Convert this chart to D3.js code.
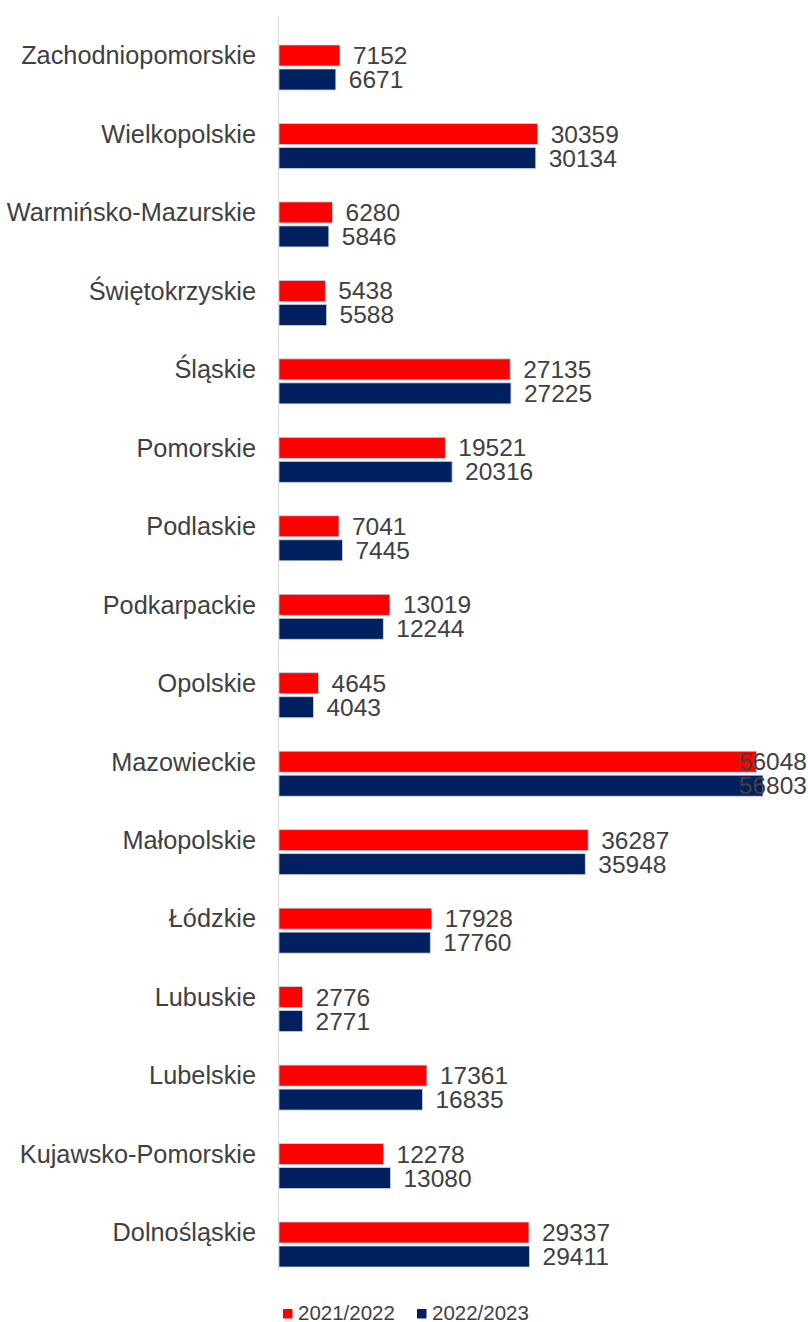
<!DOCTYPE html>
<html>
<head>
<meta charset="utf-8">
<script src="https://d3js.org/d3.v7.min.js"></script>
<style>
  body { margin: 0; background: #fff; }
  text { font-family: "Liberation Sans", Arial, sans-serif; fill: #404040; }
</style>
</head>
<body>
<script>
// Data
const categories = ["Zachodniopomorskie", "Wielkopolskie", "Warmińsko-Mazurskie", "Świętokrzyskie",
    "Śląskie", "Pomorskie", "Podlaskie", "Podkarpackie", "Opolskie", "Mazowieckie", "Małopolskie",
    "Łódzkie", "Lubuskie", "Lubelskie", "Kujawsko-Pomorskie", "Dolnośląskie"];
const series = ["2021/2022", "2022/2023"];
const values2122 = [7152, 30359, 6280, 5438, 27135, 19521, 7041, 13019, 4645, 56048, 36287, 17928, 2776, 17361, 12278, 29337];
const values2223 = [6671, 30134, 5846, 5588, 27225, 20316, 7445, 12244, 4043, 56803, 35948, 17760, 2771, 16835, 13080, 29411];
const colors = ["#ff0000", "#002060"];

const data = categories.map((c, i) => ({ name: c, values: [values2122[i], values2223[i]] }));

const width = 808, height = 1322;

const svg = d3.select("body")
    .append("svg")
    .attr("width", width)
    .attr("height", height);

// Scales
const x = d3.scaleLinear()
    .domain([0, 60000])
    .range([279, 790.2]);

const y = d3.scaleBand()
    .domain(categories)
    .range([45, 1267])
    .paddingInner(0.4265);

const ySub = d3.scaleBand()
    .domain(series)
    .range([0, y.bandwidth()])
    .paddingInner(0.125);

// Category labels (aligned with first bar of each group)
svg.append("g")
    .selectAll("text")
    .data(categories)
    .join("text")
    .attr("x", 256)
    .attr("y", d => y(d) + ySub(series[0]) + ySub.bandwidth() / 2)
    .attr("dy", "0.35em")
    .attr("text-anchor", "end")
    .style("font-size", "25.3px")
    .text(d => d);

// Bars
const groups = svg.append("g")
    .selectAll("g")
    .data(data)
    .join("g")
    .attr("transform", d => `translate(0,${y(d.name)})`);

groups.selectAll("rect")
    .data(d => d.values.map((v, j) => ({ key: series[j], value: v, j })))
    .join("rect")
    .attr("x", x(0))
    .attr("y", d => ySub(d.key))
    .attr("width", d => x(d.value) - x(0))
    .attr("height", ySub.bandwidth())
    .attr("fill", d => colors[d.j])
    .attr("stroke", "#c9d3e6")
    .attr("stroke-width", 0.8);

// Value labels (kept inside the plot on the right edge)
groups.selectAll("text")
    .data(d => d.values.map((v, j) => ({ key: series[j], value: v })))
    .join("text")
    .attr("y", d => ySub(d.key) + ySub.bandwidth() / 2)
    .attr("dy", "0.35em")
    .style("font-size", "24.5px")
    .text(d => d.value)
    .attr("x", function(d) {
        const w = this.getComputedTextLength();
        return Math.min(x(d.value) + 13, width - 1 - w);
    });

// Vertical axis line
svg.append("line")
    .attr("x1", 278.5).attr("x2", 278.5)
    .attr("y1", 16).attr("y2", 1270)
    .attr("stroke", "#d9d9d9")
    .attr("stroke-width", 1);

// Legend
const legend = svg.append("g");
const legendX = [283, 417];
series.forEach((s, i) => {
    legend.append("rect")
        .attr("x", legendX[i]).attr("y", 1309)
        .attr("width", 9.5).attr("height", 9.5)
        .attr("fill", colors[i]);
    legend.append("text")
        .attr("x", legendX[i] + 15).attr("y", 1319.5)
        .style("font-size", "20.5px")
        .text(s);
});
</script>
</body>
</html>
